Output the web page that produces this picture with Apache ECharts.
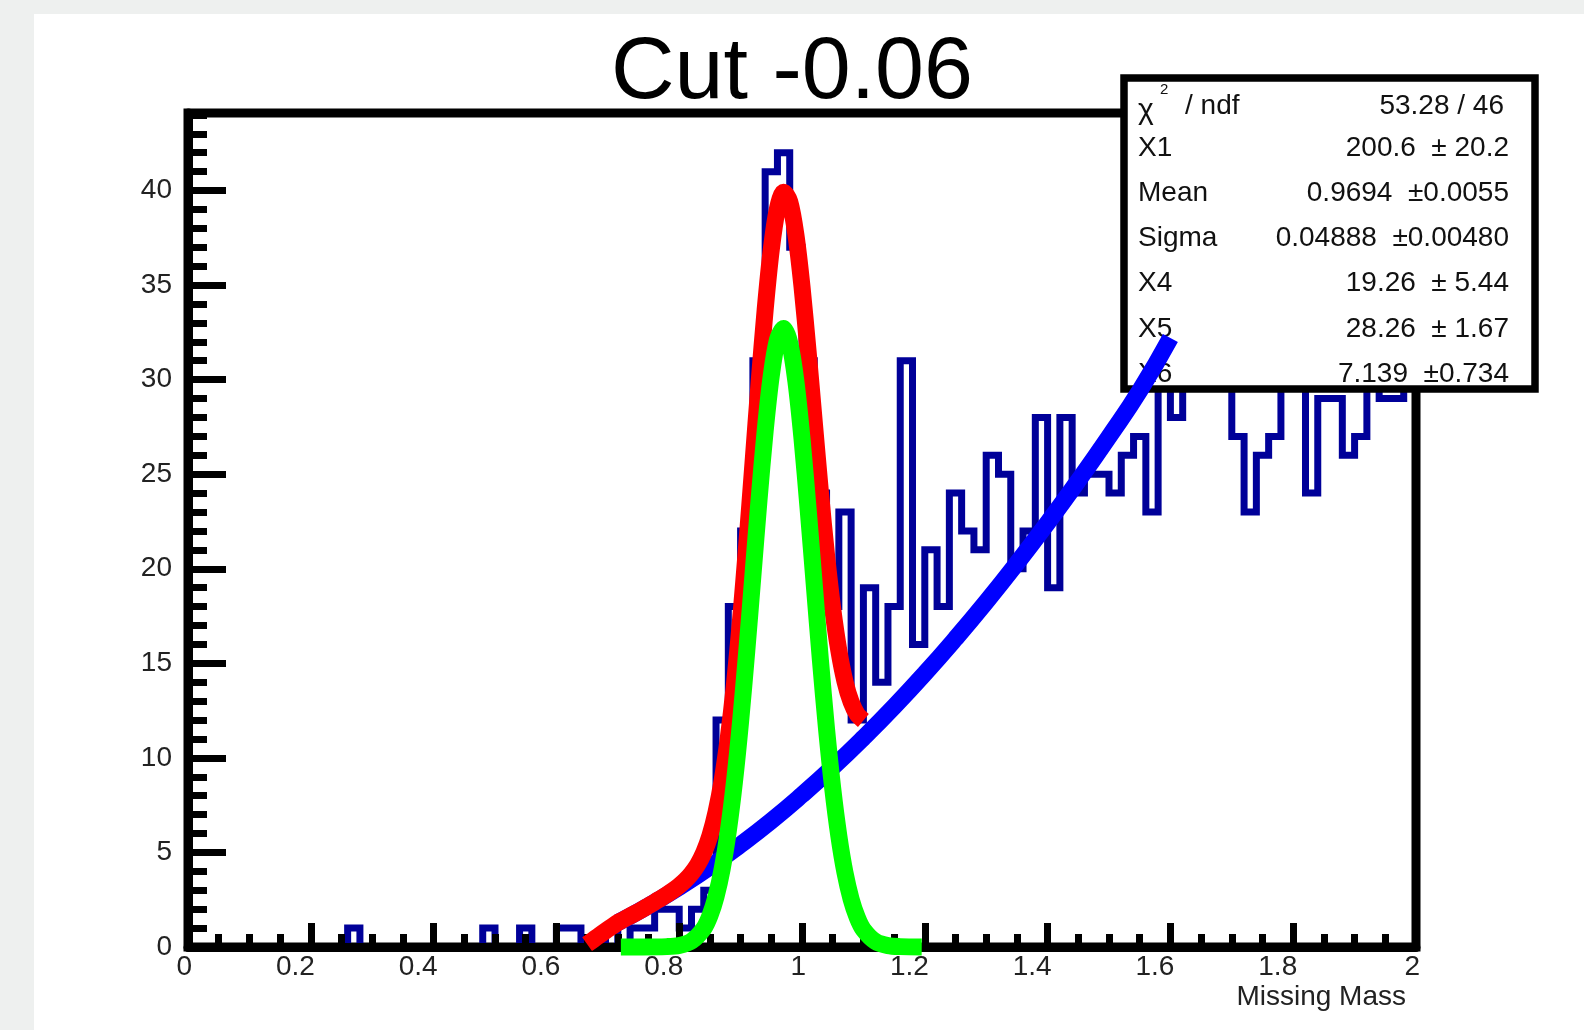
<!DOCTYPE html>
<html>
<head>
<meta charset="utf-8">
<title>Cut -0.06</title>
<script src="https://cdn.jsdelivr.net/npm/echarts@6/dist/echarts.min.js"></script>
<style>
  html, body { margin: 0; padding: 0; background: #eef0ef; }
  #main { width: 1584px; height: 1030px; }
</style>
</head>
<body>
<div id="main"></div>
<script>
// histogram, 100 bins between 0 and 2
var binLow = 0;
var binWidth = 0.02;
var binCounts = [
  0, 0, 0, 0, 0, 0, 0, 0, 0, 0,
  0, 0, 0, 1, 0, 0, 0, 0, 0, 0,
  0, 0, 0, 0, 1, 0, 0, 1, 0, 0,
  1, 1, 0, 0, 1, 0, 1, 1, 2, 2,
  1, 2, 3, 12, 18, 22, 31, 41, 42, 37,
  31, 24, 18, 23, 12, 19, 14, 18, 31, 16,
  21, 18, 24, 22, 21, 26, 25, 20, 22, 28,
  19, 28, 24, 25, 25, 24, 26, 27, 23, 32,
  28, 31, 33, 30, 32, 27, 23, 26, 27, 32,
  30, 24, 29, 29, 26, 27, 31, 29, 29, 31
];

// total fit (red)
var totalX = [0.65, 0.66, 0.67, 0.68, 0.69, 0.70, 0.71, 0.72, 0.73, 0.74,
  0.75, 0.76, 0.77, 0.78, 0.79, 0.80, 0.81, 0.82, 0.83, 0.84,
  0.85, 0.86, 0.87, 0.88, 0.89, 0.90, 0.91, 0.92, 0.93, 0.94,
  0.95, 0.96, 0.97, 0.98, 0.99, 1.00, 1.01, 1.02, 1.03, 1.04,
  1.05, 1.06, 1.07, 1.08, 1.09, 1.10];
var totalY = [0.15, 0.38, 0.62, 0.85, 1.07, 1.29, 1.46, 1.64, 1.81, 1.99,
  2.18, 2.37, 2.57, 2.77, 2.99, 3.24, 3.53, 3.89, 4.35, 4.99,
  5.88, 7.13, 8.82, 11.07, 13.89, 17.34, 21.28, 25.52, 29.79, 33.70,
  36.89, 39.04, 39.91, 39.42, 37.68, 34.92, 31.47, 27.75, 24.06, 20.71,
  17.89, 15.67, 14.04, 12.95, 12.30, 11.98];

// gaussian part (green)
var signalX = [0.705, 0.74, 0.78, 0.80, 0.82, 0.84,
  0.85, 0.86, 0.87, 0.88, 0.89, 0.90, 0.91, 0.92, 0.93, 0.94,
  0.95, 0.96, 0.97, 0.98, 0.99, 1.00, 1.01, 1.02, 1.03, 1.04,
  1.05, 1.06, 1.07, 1.08, 1.09, 1.10,
  1.12, 1.14, 1.16, 1.195];
var signalY = [0, 0, 0.02, 0.08, 0.31, 0.98,
  1.65, 2.67, 4.13, 6.14, 8.73, 11.93, 15.63, 19.62, 23.63, 27.29,
  30.22, 32.10, 32.70, 31.94, 29.92, 26.88, 23.15, 19.14, 15.16, 11.51,
  8.39, 5.87, 3.93, 2.53, 1.56, 0.92,
  0.28, 0.07, 0.02, 0];

// background part (blue)
var bgX = [0.70, 0.75, 0.80, 0.85, 0.90, 0.95, 1.00, 1.05, 1.10, 1.15,
  1.20, 1.25, 1.30, 1.35, 1.40, 1.45, 1.50, 1.55, 1.60];
var bgY = [1.29, 2.18, 3.16, 4.23, 5.41, 6.67, 8.04, 9.50, 11.06, 12.71,
  14.46, 16.31, 18.25, 20.29, 22.43, 24.66, 26.98, 29.41, 32.20];

// stats box
var chi2Value = '53.28 / 46';
var statNames = ['X1', 'Mean', 'Sigma', 'X4', 'X5', 'X6'];
var statValues = ['200.6  \u00b1 20.2', '0.9694  \u00b10.0055', '0.04888  \u00b10.00480',
  '19.26  \u00b1 5.44', '28.26  \u00b1 1.67', '7.139  \u00b10.734'];

var FONT = "'Liberation Sans', Arial, Helvetica, sans-serif";

function pairs(xs, ys) {
  return xs.map(function (x, i) { return [x, ys[i]]; });
}

var histData = binCounts.map(function (c, i) { return [binLow + i * binWidth, c]; });
histData.push([binLow + binCounts.length * binWidth, binCounts[binCounts.length - 1]]);

var chart = echarts.init(document.getElementById('main'));

var graphics = [
  { type: 'rect', z: -100, shape: { x: 34, y: 14, width: 1550, height: 1016 }, style: { fill: '#ffffff' } },
  { type: 'rect', z: 5, shape: { x: 1124, y: 78, width: 411, height: 311 },
    style: { fill: '#ffffff', stroke: '#000000', lineWidth: 7.5 } },
  { type: 'text', z: 6, x: 1138, y: 111, style: { text: '\u03c7', fontSize: 30, fontFamily: FONT, fill: '#111', verticalAlign: 'middle' } },
  { type: 'text', z: 6, x: 1160, y: 90, style: { text: '2', fontSize: 15, fontFamily: FONT, fill: '#111', verticalAlign: 'middle' } },
  { type: 'text', z: 6, x: 1185, y: 106, style: { text: '/ ndf', fontSize: 28, fontFamily: FONT, fill: '#111', verticalAlign: 'middle' } },
  { type: 'text', z: 6, x: 1504, y: 106, style: { text: chi2Value, fontSize: 28, fontFamily: FONT, fill: '#111', align: 'right', verticalAlign: 'middle' } },
  { type: 'text', z: 3, x: 1406, y: 997, style: { text: 'Missing Mass', fontSize: 28, fontFamily: FONT, fill: '#222', align: 'right', verticalAlign: 'middle' } }
];
statNames.forEach(function (name, i) {
  var y = 148 + i * 45.2;
  graphics.push({ type: 'text', z: 6, x: 1138, y: y,
    style: { text: name, fontSize: 28, fontFamily: FONT, fill: '#111', verticalAlign: 'middle' } });
  graphics.push({ type: 'text', z: 6, x: 1509, y: y,
    style: { text: statValues[i], fontSize: 28, fontFamily: FONT, fill: '#111', align: 'right', verticalAlign: 'middle' } });
});

var option = {
  backgroundColor: '#eef0ef',
  animation: false,
  title: {
    text: 'Cut -0.06',
    left: 'center',
    top: 25,
    textStyle: { fontSize: 88, fontWeight: 'normal', color: '#000', fontFamily: FONT }
  },
  grid: {
    left: 188, right: 168, top: 113, bottom: 83,
    show: true, borderColor: '#000', borderWidth: 9, backgroundColor: 'transparent'
  },
  xAxis: {
    type: 'value', min: 0, max: 2, interval: 0.2, z: 4,
    axisLine: { show: true, onZero: false, lineStyle: { color: '#000', width: 9 } },
    axisTick: { inside: true, length: 24, lineStyle: { color: '#000', width: 7 } },
    minorTick: { show: true, splitNumber: 4, length: 13, lineStyle: { color: '#000', width: 7 } },
    splitLine: { show: false },
    axisLabel: { margin: 6, fontSize: 28, color: '#222', fontFamily: FONT, align: 'right', padding: [0, -4, 0, 0] }
  },
  yAxis: [{
    type: 'value', min: 0, max: 44.1, interval: 5, z: 4,
    axisLine: { show: true, onZero: false, lineStyle: { color: '#000', width: 9 } },
    axisTick: { inside: true, length: 38, lineStyle: { color: '#000', width: 7 } },
    splitLine: { show: false },
    axisLabel: { margin: 16, fontSize: 28, color: '#222', fontFamily: FONT, showMaxLabel: false }
  }, {
    type: 'value', min: 0, max: 44.1, interval: 1, position: 'left', z: 4,
    axisLine: { show: false },
    axisTick: { inside: true, length: 19, lineStyle: { color: '#000', width: 7 } },
    splitLine: { show: false },
    axisLabel: { show: false }
  }],
  graphic: graphics,
  series: [{
    type: 'line', step: 'end', data: histData, showSymbol: false, silent: true, z: 2,
    lineStyle: { color: '#000099', width: 7, join: 'miter' }
  }, {
    type: 'line', data: pairs(bgX, bgY), smooth: true, showSymbol: false, silent: true, z: 10, clip: false,
    lineStyle: { color: '#0000ff', width: 17, cap: 'butt' }
  }, {
    type: 'line', data: pairs(totalX, totalY), smooth: 0.3, showSymbol: false, silent: true, z: 11, clip: false,
    lineStyle: { color: '#ff0000', width: 17, cap: 'butt', join: 'round' }
  }, {
    type: 'line', data: pairs(signalX, signalY), smooth: 0.3, showSymbol: false, silent: true, z: 12, clip: false,
    lineStyle: { color: '#00ff00', width: 17, cap: 'butt', join: 'round' }
  }]
};

chart.setOption(option);
</script>
</body>
</html>
